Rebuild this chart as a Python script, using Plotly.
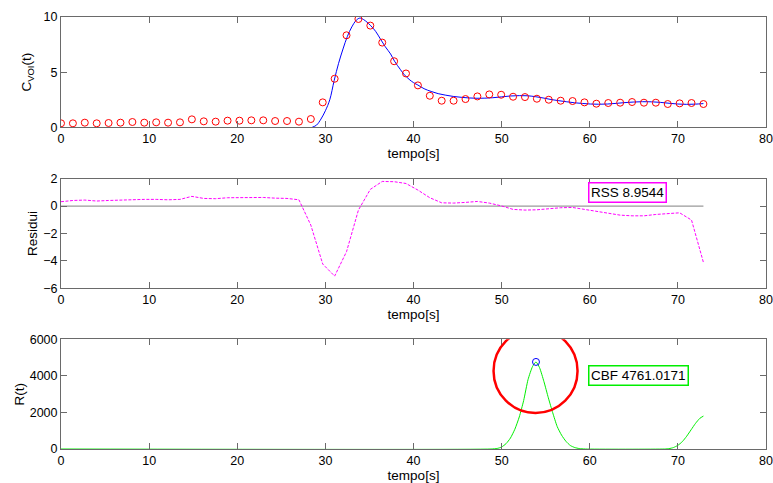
import plotly.graph_objects as go

# ---------------- data ----------------
t_meas = [round(i * 1.35, 2) for i in range(55)]
c_meas = [0.36, 0.36, 0.42, 0.36, 0.39, 0.42, 0.48, 0.42, 0.45, 0.42,
          0.45, 0.72, 0.54, 0.51, 0.60, 0.60, 0.63, 0.63, 0.57, 0.57,
          0.51, 0.75, 2.26, 4.40, 8.34, 9.82, 9.22, 7.68, 5.99, 4.88,
          3.80, 2.86, 2.41, 2.41, 2.56, 2.80, 2.98, 2.95, 2.77, 2.74,
          2.59, 2.50, 2.41, 2.38, 2.26, 2.14, 2.20, 2.23, 2.29, 2.23,
          2.23, 2.11, 2.17, 2.20, 2.11]

t_fit = [28.5, 29.0, 29.5, 30.0, 30.5, 31.0, 31.5, 32.0, 32.5, 33.0,
         33.5, 33.9, 34.35, 35.1, 35.7, 36.25, 36.8, 37.4, 37.84, 38.5,
         38.9, 39.5, 40.0, 40.5, 41.2, 42.0, 42.8, 43.6, 44.5, 45.4,
         46.3, 47.2, 48.1, 49.0, 50.0, 51.0, 52.0, 52.9, 53.8, 54.7,
         55.6, 56.5, 57.4, 58.3, 59.2, 60.1, 61.0, 62.0, 63.0, 64.0,
         65.0, 66.0, 67.0, 68.0, 69.0, 70.0, 71.0, 72.0, 72.9]
c_fit = [0.0, 0.2, 0.75, 1.5, 2.5, 4.25, 5.8, 7.1, 8.25, 9.1,
         9.7, 9.9, 9.76, 9.25, 8.7, 8.0, 7.3, 6.65, 6.0, 5.25,
         4.82, 4.35, 4.05, 3.83, 3.5, 3.25, 3.05, 2.92, 2.8, 2.72,
         2.66, 2.63, 2.64, 2.68, 2.76, 2.84, 2.87, 2.86, 2.78, 2.66,
         2.52, 2.41, 2.31, 2.22, 2.16, 2.11, 2.09, 2.11, 2.17, 2.24,
         2.29, 2.32, 2.31, 2.26, 2.18, 2.11, 2.08, 2.10, 2.15]

residui = [0.32, 0.41, 0.44, 0.37, 0.41, 0.44, 0.49, 0.49, 0.49, 0.46,
           0.49, 0.71, 0.56, 0.54, 0.61, 0.63, 0.63, 0.63, 0.58, 0.56,
           0.46, -1.39, -4.23, -5.11, -3.33, -0.29, 1.22, 1.80, 1.78, 1.65,
           1.17, 0.61, 0.24, 0.22, 0.27, 0.34, 0.22, 0.02, -0.24, -0.29,
           -0.27, -0.17, -0.12, -0.10, -0.24, -0.41, -0.54, -0.66, -0.71, -0.71,
           -0.61, -0.56, -0.49, -1.02, -4.11]

t_r = [0.0, 48.8, 49.5, 50.0, 50.5, 51.0, 51.5, 52.0, 52.5, 53.0,
       53.5, 53.9, 54.3, 54.8, 55.3, 55.8, 56.3, 56.8, 57.3, 57.8,
       58.3, 58.8, 59.5, 68.5, 69.0, 69.5, 70.0, 70.5, 71.0, 71.5,
       72.0, 72.5, 72.9]
r_vals = [0, 0, 30, 110, 290, 600, 1080, 1750, 2650, 3800,
          4500, 4761, 4450, 3690, 2800, 1980, 1236, 760, 420, 190,
          80, 25, 0, 0, 20, 80, 200, 400, 700, 1050,
          1400, 1680, 1800]

rss_text = "RSS 8.9544"
cbf_text = "CBF 4761.0171"
t_peak = 53.9
cbf_peak = 4761.0171

x_ticks = [0, 10, 20, 30, 40, 50, 60, 70, 80]
y1_ticks = [0, 5, 10]
y2_ticks = [-6, -4, -2, 0, 2]
y3_ticks = [0, 2000, 4000, 6000]

# ---------------- figure ----------------
FONT = "Liberation Sans, Arial, sans-serif"
AX = "#6a6a6a"

fig = go.Figure()

fig.add_trace(go.Scatter(x=t_fit, y=c_fit, mode="lines",
                         line=dict(color="#0000ff", width=1, shape="spline"),
                         xaxis="x", yaxis="y", showlegend=False))
fig.add_trace(go.Scatter(x=t_meas, y=c_meas, mode="markers",
                         marker=dict(symbol="circle-open", size=7, color="#ff0000",
                                     line=dict(width=1)),
                         xaxis="x", yaxis="y", showlegend=False))

fig.add_trace(go.Scatter(x=[t_meas[0], t_meas[-1]], y=[0, 0], mode="lines",
                         line=dict(color="#808080", width=1),
                         xaxis="x2", yaxis="y2", showlegend=False))
fig.add_trace(go.Scatter(x=t_meas, y=residui, mode="lines",
                         line=dict(color="#ff00ff", width=1, dash="3px,1.5px"),
                         xaxis="x2", yaxis="y2", showlegend=False))

fig.add_trace(go.Scatter(x=t_r, y=r_vals, mode="lines",
                         line=dict(color="#00ee00", width=1, shape="spline", smoothing=0.6),
                         xaxis="x3", yaxis="y3", showlegend=False))
fig.add_trace(go.Scatter(x=[t_peak], y=[cbf_peak], mode="markers",
                         marker=dict(symbol="circle-open", size=7, color="#0000ff",
                                     line=dict(width=1)),
                         xaxis="x3", yaxis="y3", showlegend=False))


def xax(anchor):
    return dict(range=[0, 80], tickvals=x_ticks, ticks="inside", ticklen=6,
                tickcolor=AX, showline=True, linecolor=AX, linewidth=1,
                mirror="allticks", showgrid=False, zeroline=False,
                anchor=anchor, domain=[0, 1], automargin=False,
                tickfont=dict(family=FONT, size=12.5, color="black"),
                title=dict(text="tempo[s]", standoff=3,
                           font=dict(family=FONT, size=13.5, color="black")))


def yax(anchor, rng, ticks, dom, title, standoff):
    return dict(range=rng, tickvals=ticks, ticks="inside", ticklen=6,
                tickcolor=AX, showline=True, linecolor=AX, linewidth=1,
                mirror="allticks", showgrid=False, zeroline=False,
                anchor=anchor, domain=dom, automargin=False,
                tickfont=dict(family=FONT, size=12.5, color="black"),
                title=dict(text=title, standoff=standoff,
                           font=dict(family=FONT, size=13.5, color="black")))


fig.update_layout(
    width=773, height=483,
    margin=dict(l=61, r=7, t=17, b=34, autoexpand=False),
    paper_bgcolor="white", plot_bgcolor="white",
    font=dict(family=FONT, size=12.5, color="black"),
    xaxis=xax("y"),
    yaxis=yax("x", [0, 10], y1_ticks, [0.7447, 1.0], "C<sub>VOI</sub>(t)", 8),
    xaxis2=xax("y2"),
    yaxis2=yax("x2", [-6, 2], y2_ticks, [0.372, 0.6257], "Residui", 2),
    xaxis3=xax("y3"),
    yaxis3=yax("x3", [0, 6000], y3_ticks, [0.0, 0.254], "R(t)", 1),
    annotations=[
        dict(text=rss_text, x=59.75, y=1.0, xref="x2", yref="y2",
             xanchor="left", yanchor="middle", showarrow=False,
             font=dict(family=FONT, size=13.5, color="black"),
             bgcolor="white", bordercolor="#ff00ff", borderwidth=1.5, borderpad=1.5),
        dict(text=cbf_text, x=59.75, y=4000, xref="x3", yref="y3",
             xanchor="left", yanchor="middle", showarrow=False,
             font=dict(family=FONT, size=13.5, color="black"),
             bgcolor="white", bordercolor="#00ee00", borderwidth=1.5, borderpad=1.5),
    ],
    shapes=[
        dict(type="circle", xref="x3", yref="y3",
             xsizemode="pixel", ysizemode="pixel",
             xanchor=53.85, yanchor=4271,
             x0=-42, x1=42, y0=-42, y1=42,
             line=dict(color="#ff0000", width=2.5)),
    ],
)

fig.write_html("out.html")
